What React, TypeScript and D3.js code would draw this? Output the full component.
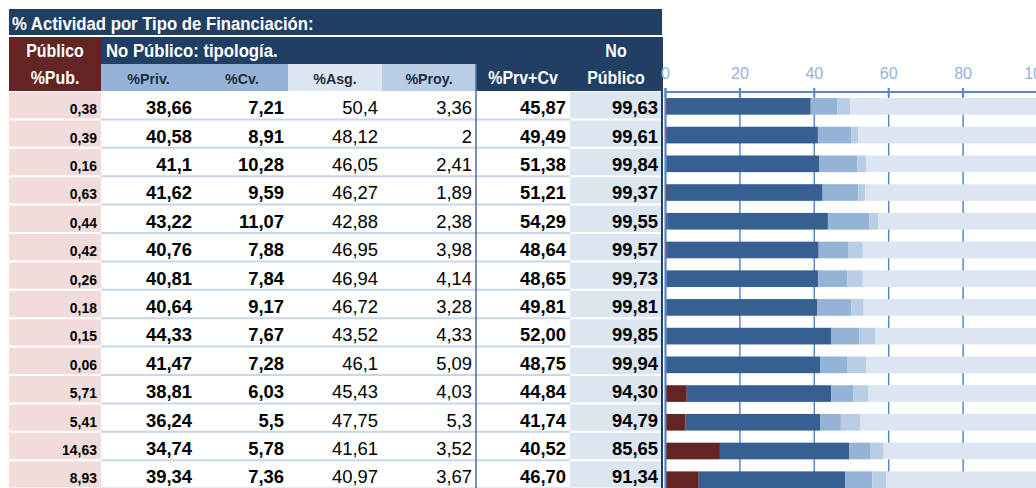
import * as d3 from "d3";

const pub = [0.38, 0.39, 0.16, 0.63, 0.44, 0.42, 0.26, 0.18, 0.15, 0.06, 5.71, 5.41, 14.63, 8.93];
const priv = [38.66, 40.58, 41.1, 41.62, 43.22, 40.76, 40.81, 40.64, 44.33, 41.47, 38.81, 36.24, 34.74, 39.34];
const cv = [7.21, 8.91, 10.28, 9.59, 11.07, 7.88, 7.84, 9.17, 7.67, 7.28, 6.03, 5.5, 5.78, 7.36];
const asg = [50.4, 48.12, 46.05, 46.27, 42.88, 46.95, 46.94, 46.72, 43.52, 46.1, 45.43, 47.75, 41.61, 40.97];
const proy = [3.36, 2, 2.41, 1.89, 2.38, 3.98, 4.14, 3.28, 4.33, 5.09, 4.03, 5.3, 3.52, 3.67];
const prvCv = [45.87, 49.49, 51.38, 51.21, 54.29, 48.64, 48.65, 49.81, 52.0, 48.75, 44.84, 41.74, 40.52, 46.7];
const noPub = [99.63, 99.61, 99.84, 99.37, 99.55, 99.57, 99.73, 99.81, 99.85, 99.94, 94.3, 94.79, 85.65, 91.34];
const xTicks = [0, 20, 40, 60, 80, 100];

const FONT = "'Liberation Sans', Arial, sans-serif";
const NAVY = "#213f63";
const RED = "#632523";
const PINK = "#f2dcdb";
const AXIS = "#5b87c4";

const W = 1036;
const H = 488;

// comma decimals like the spreadsheet
const fmt = (v: number) => String(v).replace(".", ",");
const fmt2 = (v: number) => v.toFixed(2).replace(".", ",");

const keys = ["pub", "priv", "cv", "proy", "asg"];
const colors: Record<string, string> = {
  pub: RED,
  priv: "#376092",
  cv: "#95b3d7",
  proy: "#b9cde5",
  asg: "#dce6f2",
};

// narrow-looking header text (no condensed font installed, so squeeze it)
const NText = ({ x, y, sx = 0.84, anchor = "start", size = 19, fill = "#fff", children }: any) => (
  <text
    transform={`translate(${x},${y}) scale(${sx},1)`}
    fill={fill}
    fontSize={size}
    fontWeight="bold"
    textAnchor={anchor}
  >
    {children}
  </text>
);

const App = () => {
  const rows = d3.range(pub.length);
  const table = rows.map((i) => ({ pub: pub[i], priv: priv[i], cv: cv[i], proy: proy[i], asg: asg[i] }));
  const series = d3.stack<any>().keys(keys)(table);

  // table rows and chart rows do not line up exactly in the sheet
  const ty = d3.scaleBand<number>().domain(rows).range([91, 91 + rows.length * 28.4]);
  const y = d3.scaleBand<number>().domain(rows).range([92, 92 + rows.length * 28.72]);
  const x = d3.scaleLinear().domain([0, 100]).range([665.5, 1037.5]);
  const barH = y.bandwidth() * 0.58;

  // column edges of the table
  const edges = [10, 101, 196, 288, 382, 476, 570, 662];
  const cols = [
    { vals: pub.map(fmt), bold: true, size: 15.5, sx: 0.9 },
    { vals: priv.map(fmt), bold: true, size: 19, sx: 0.97 },
    { vals: cv.map(fmt), bold: true, size: 19, sx: 0.97 },
    { vals: asg.map(fmt), bold: false, size: 19, sx: 0.97 },
    { vals: proy.map(fmt), bold: false, size: 19, sx: 0.97 },
    { vals: prvCv.map(fmt2), bold: true, size: 19, sx: 0.97 },
    { vals: noPub.map(fmt2), bold: true, size: 19, sx: 0.97 },
  ];
  const subHeads = [
    { label: "%Priv.", fill: "#95b3d7" },
    { label: "%Cv.", fill: "#95b3d7" },
    { label: "%Asg.", fill: "#dce6f2" },
    { label: "%Proy.", fill: "#b9cde5" },
  ];

  return (
    <div style={{ position: "absolute", left: 0, top: 0 }}>
      <svg width={W} height={H} style={{ display: "block", fontFamily: FONT }}>
        <rect width={W} height={H} fill="#fff" />

        {/* header */}
        <rect x={9} y={9} width={653} height={26} fill={NAVY} />
        <NText x={12} y={30} sx={0.88}>
          % Actividad por Tipo de Financiación:
        </NText>
        <rect x={9} y={37} width={92} height={54} fill={RED} />
        <rect x={101} y={37} width={561} height={27} fill={NAVY} />
        <rect x={476} y={64} width={186} height={27} fill={NAVY} />
        <NText x={55} y={57} anchor="middle">Público</NText>
        <NText x={55} y={84} anchor="middle">%Pub.</NText>
        <NText x={106} y={57} sx={0.88}>No Público: tipología.</NText>
        <NText x={616} y={57} anchor="middle">No</NText>
        <NText x={523} y={84} anchor="middle">%Prv+Cv</NText>
        <NText x={616} y={84} anchor="middle">Público</NText>
        {subHeads.map((h, j) => (
          <g key={h.label}>
            <rect x={edges[j + 1]} y={64} width={edges[j + 2] - edges[j + 1]} height={27} fill={h.fill} />
            <NText x={(edges[j + 1] + edges[j + 2]) / 2} y={84} anchor="middle" size={15.5} sx={0.92} fill="#1f2d3d">
              {h.label}
            </NText>
          </g>
        ))}

        {/* table body */}
        <rect x={9} y={92} width={92} height={H - 92} fill={PINK} />
        <rect x={570} y={92} width={92} height={H - 92} fill="#dce6f1" />
        {rows.map((i) => {
          const yb = (ty(i) as number) + ty.bandwidth();
          return (
            <g key={"sep" + i}>
              <line x1={9} x2={101} y1={yb} y2={yb} stroke="#fff" strokeWidth={2} />
              <line x1={101} x2={570} y1={yb} y2={yb} stroke="#c6d6eb" strokeWidth={2} />
              <line x1={570} x2={662} y1={yb} y2={yb} stroke="#fff" strokeWidth={2} />
            </g>
          );
        })}
        {cols.map((c, j) =>
          c.vals.map((v, i) => (
            <text
              key={j + "-" + i}
              transform={`translate(${edges[j + 1] - 4},${(ty(i) as number) + ty.bandwidth() / 2 + 9}) scale(${c.sx},1)`}
              fontSize={c.size}
              fontWeight={c.bold ? "bold" : "normal"}
              fill="#000"
              textAnchor="end"
            >
              {v}
            </text>
          ))
        )}
        <line x1={476} x2={476} y1={64} y2={H} stroke="#4f6fa0" strokeWidth={1.5} />
        <line x1={662} x2={662} y1={37} y2={H} stroke={NAVY} strokeWidth={2} />

        {/* chart */}
        {xTicks.map((t) => (
          <g key={"t" + t}>
            <line x1={x(t)} x2={x(t)} y1={92} y2={H} stroke={AXIS} strokeWidth={1.5} />
            <line x1={x(t)} x2={x(t)} y1={88} y2={97} stroke={AXIS} strokeWidth={2} />
            <text x={x(t)} y={79} fill="#95b3d7" fontSize={16} textAnchor="middle">
              {t}
            </text>
          </g>
        ))}
        {series.map((s) => (
          <g key={s.key} fill={colors[s.key]}>
            {s.map((d, i) => (
              <rect
                key={i}
                x={x(d[0])}
                y={(y(i) as number) + (y.bandwidth() - barH) / 2}
                width={Math.max(0, x(Math.min(d[1], 100)) - x(d[0]))}
                height={barH}
              />
            ))}
          </g>
        ))}
        <line x1={x(0)} x2={W} y1={92} y2={92} stroke={AXIS} strokeWidth={2} />
        <line x1={x(0)} x2={x(0)} y1={88} y2={H} stroke={AXIS} strokeWidth={2} />
      </svg>
    </div>
  );
};

export default App;
